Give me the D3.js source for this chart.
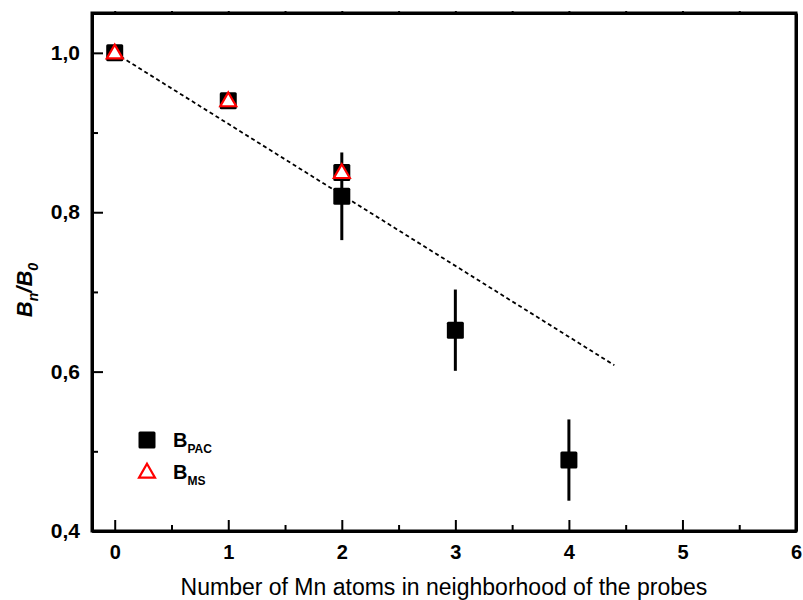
<!DOCTYPE html>
<html>
<head>
<meta charset="utf-8">
<script src="https://cdn.jsdelivr.net/npm/d3@7/dist/d3.min.js"></script>
<style>
  body { margin: 0; background: #fff; }
  svg text { font-family: "Liberation Sans", Arial, sans-serif; }
</style>
</head>
<body>
<svg id="chart" width="803" height="600"></svg>
<script>
// Hyperfine field ratio vs. number of Mn neighbours
const pacX = [0, 1, 2, 2, 3, 4];
const pacY = [1.0, 0.94, 0.85, 0.82, 0.652, 0.489];
const pacErr = [0, 0, 0, 0.055, 0.051, 0.051];

const msX = [0, 1, 2];
const msY = [1.0, 0.94, 0.85];

// linear trend (dashed)
const fitX = [0, 4.4];
const fitY = [1.0, 0.608];

const xTicks = [0, 1, 2, 3, 4, 5, 6];
const yTicks = [0.4, 0.6, 0.8, 1.0];

const svg = d3.select("#chart");
const L = 92, R = 796, T = 13, B = 531;

const x = d3.scaleLinear().domain([-0.2, 6]).range([L, R]);
const y = d3.scaleLinear().domain([0.4, 1.05]).range([B, T]);
const fmt = d => d3.format(".1f")(d).replace(".", ",");

// axes: major ticks inward, minor ticks between
const xAxis = d3.axisBottom(x).tickValues(xTicks).tickFormat(d3.format("d"))
  .tickSizeInner(-11).tickSizeOuter(0).tickPadding(14);
const gx = svg.append("g").attr("transform", `translate(0,${B})`).call(xAxis);
gx.selectAll(".tick text").attr("font-size", 20).attr("font-weight", "bold").attr("fill", "#000");
svg.append("g").attr("transform", `translate(0,${B})`)
  .call(d3.axisBottom(x).tickValues([0.5, 1.5, 2.5, 3.5, 4.5, 5.5]).tickSizeInner(-6).tickSizeOuter(0).tickFormat(""));

const yAxis = d3.axisLeft(y).tickValues(yTicks).tickFormat(fmt).tickSizeInner(-11).tickSizeOuter(0).tickPadding(11);
const gy = svg.append("g").attr("transform", `translate(${L},0)`).call(yAxis);
gy.selectAll(".tick text").attr("font-size", 21).attr("font-weight", "bold").attr("fill", "#000")
  .attr("x", -12);
svg.append("g").attr("transform", `translate(${L},0)`)
  .call(d3.axisLeft(y).tickValues([0.5, 0.7, 0.9]).tickSizeInner(-6).tickSizeOuter(0).tickFormat(""));

// top and right frame with tiny outer ticks
svg.append("g").attr("transform", `translate(0,${T})`)
  .call(d3.axisTop(x).tickValues([0, 0.5, 1, 1.5, 2, 2.5, 3, 3.5, 4, 4.5, 5, 5.5]).tickSizeInner(2).tickSizeOuter(0).tickFormat(""));
svg.append("g").attr("transform", `translate(${R},0)`)
  .call(d3.axisRight(y).tickValues([0.5, 0.6, 0.7, 0.8, 0.9, 1.0]).tickSizeInner(2).tickSizeOuter(0).tickFormat(""));

svg.selectAll(".domain").attr("stroke", "#000").attr("stroke-width", 3);
svg.selectAll(".tick line").attr("stroke", "#000").attr("stroke-width", 2);

// frame
svg.append("rect").attr("x", L).attr("y", T).attr("width", R - L).attr("height", B - T)
  .attr("fill", "none").attr("stroke", "#000").attr("stroke-width", 3);

// dashed trend line
svg.append("path")
  .datum(fitX.map((d, i) => [d, fitY[i]]))
  .attr("d", d3.line().x(d => x(d[0])).y(d => y(d[1])))
  .attr("fill", "none").attr("stroke", "#000").attr("stroke-width", 1.8)
  .attr("stroke-dasharray", "4,3");

// PAC error bars
const pac = pacX.map((d, i) => ({ x: d, y: pacY[i], e: pacErr[i] }));
svg.append("g").selectAll("line").data(pac.filter(d => d.e > 0)).join("line")
  .attr("x1", d => x(d.x)).attr("x2", d => x(d.x))
  .attr("y1", d => y(d.y + d.e)).attr("y2", d => y(d.y - d.e))
  .attr("stroke", "#000").attr("stroke-width", 3);

// PAC squares
const sq = 17;
svg.append("g").selectAll("rect").data(pac).join("rect")
  .attr("x", d => x(d.x) - sq / 2).attr("y", d => y(d.y) - sq / 2)
  .attr("width", sq).attr("height", sq).attr("rx", 1.5)
  .attr("fill", "#000");

// MS triangles
const tri = d3.symbol().type(d3.symbolTriangle).size(110);
svg.append("g").selectAll("path").data(msX.map((d, i) => ({ x: d, y: msY[i] }))).join("path")
  .attr("d", tri)
  .attr("transform", d => `translate(${x(d.x)},${y(d.y) + 1})`)
  .attr("fill", "#fff").attr("stroke", "#ff0000").attr("stroke-width", 2.2);

// legend
const lg = svg.append("g");
lg.append("rect").attr("x", 147 - sq / 2).attr("y", 440 - sq / 2).attr("width", sq).attr("height", sq).attr("rx", 1.5).attr("fill", "#000");
lg.append("path").attr("d", tri).attr("transform", "translate(147,473)")
  .attr("fill", "#fff").attr("stroke", "#ff0000").attr("stroke-width", 2.2);
const t1 = lg.append("text").attr("x", 173).attr("y", 447).attr("font-size", 20).attr("font-weight", "bold");
t1.append("tspan").text("B");
t1.append("tspan").attr("dy", 6).attr("font-size", 12).text("PAC");
const t2 = lg.append("text").attr("x", 173).attr("y", 479).attr("font-size", 20).attr("font-weight", "bold");
t2.append("tspan").text("B");
t2.append("tspan").attr("dy", 6).attr("font-size", 12).text("MS");

// axis titles
svg.append("text").attr("x", (L + R) / 2).attr("y", 595).attr("text-anchor", "middle")
  .attr("font-size", 23).attr("fill", "#000").text("Number of Mn atoms in neighborhood of the probes");

const yt = svg.append("text").attr("transform", "translate(32,290) rotate(-90)")
  .attr("text-anchor", "middle").attr("font-size", 22).attr("font-weight", "bold").attr("font-style", "italic");
yt.append("tspan").text("B");
yt.append("tspan").attr("dy", 6).attr("font-size", 14).text("n");
yt.append("tspan").attr("dy", -6).text("/B");
yt.append("tspan").attr("dy", 6).attr("font-size", 14).text("0");
</script>
</body>
</html>
